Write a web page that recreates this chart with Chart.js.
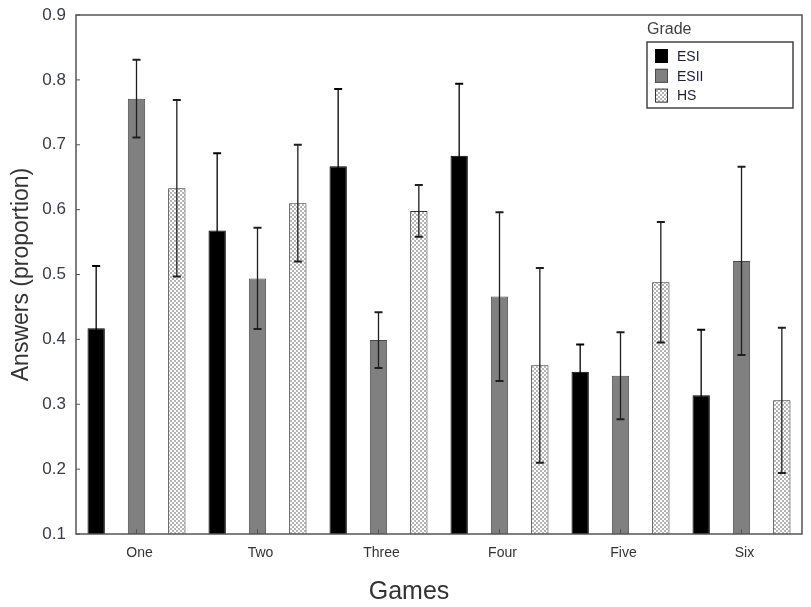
<!DOCTYPE html>
<html>
<head>
<meta charset="utf-8">
<script src="https://cdn.jsdelivr.net/npm/chart.js@4"></script>
<style>
  html, body { margin: 0; padding: 0; background: #fff; }
  canvas { display: block; }
</style>
</head>
<body>
<canvas id="myChart" width="811" height="607"></canvas>
<script>
"use strict"

// categories and series
const games = ['One', 'Two', 'Three', 'Four', 'Five', 'Six'];
const esi = [0.417, 0.568, 0.667, 0.683, 0.350, 0.314];
const esiErr = [0.096, 0.119, 0.119, 0.111, 0.042, 0.101];
const esii = [0.771, 0.494, 0.399, 0.466, 0.344, 0.521];
const esiiErr = [0.060, 0.078, 0.043, 0.130, 0.067, 0.145];
const hs = [0.633, 0.610, 0.598, 0.360, 0.488, 0.306];
const hsErr = [0.136, 0.090, 0.040, 0.150, 0.093, 0.112];
const gradeNames = ['ESI', 'ESII', 'HS'];
const yTicks = [0.1, 0.2, 0.3, 0.4, 0.5, 0.6, 0.7, 0.8, 0.9];

const FONT = "'Liberation Sans', Arial, sans-serif";

// dotted fill for the HS bars
function makeDots() {
    let c = document.createElement('canvas');
    c.width = 4;
    c.height = 4;
    let g = c.getContext('2d');
    g.fillStyle = '#b4b4b4';
    g.fillRect(0, 0, 4, 4);
    g.fillStyle = '#ffffff';
    g.fillRect(0, 0, 2, 2);
    g.fillRect(2, 2, 2, 2);
    return g.createPattern(c, 'repeat');
}
const dots = makeDots();

const fills = ['#000000', '#808080', dots];
const borders = ['#000000', '#4a4a4a', '#333333'];
const errColors = ['#000000', '#1e1e1e', '#1e1e1e'];

// error bars, box round the plot, inner ticks, axis title and the legend
const extras = {
    id: 'extras',
    afterDatasetsDraw(chart) {
        let ctx = chart.ctx;
        let y = chart.scales.y;
        let errs = [esiErr, esiiErr, hsErr];
        ctx.save();
        chart.data.datasets.forEach((ds, i) => {
            let meta = chart.getDatasetMeta(i);
            meta.data.forEach((bar, j) => {
                let v = ds.data[j];
                let top = y.getPixelForValue(v + errs[i][j]);
                let bot = y.getPixelForValue(v - errs[i][j]);
                ctx.strokeStyle = errColors[i];
                ctx.lineWidth = 1.3;
                ctx.beginPath();
                ctx.moveTo(bar.x, top);
                ctx.lineTo(bar.x, bot);
                ctx.stroke();
                ctx.lineWidth = 2;
                ctx.beginPath();
                ctx.moveTo(bar.x - 4, top);
                ctx.lineTo(bar.x + 4, top);
                ctx.moveTo(bar.x - 4, bot);
                ctx.lineTo(bar.x + 4, bot);
                ctx.stroke();
            });
        });
        ctx.restore();
    },
    afterDraw(chart) {
        let ctx = chart.ctx;
        let a = chart.chartArea;
        ctx.save();
        ctx.strokeStyle = '#555555';
        ctx.lineWidth = 1.5;
        ctx.strokeRect(a.left, a.top, a.right - a.left, a.bottom - a.top);

        // small ticks pointing into the plot
        let x = chart.scales.x;
        let y = chart.scales.y;
        ctx.lineWidth = 1;
        games.forEach((g, i) => {
            let px = x.getPixelForValue(i);
            ctx.beginPath();
            ctx.moveTo(px, a.bottom);
            ctx.lineTo(px, a.bottom - 5);
            ctx.stroke();
        });
        yTicks.forEach((t) => {
            let py = y.getPixelForValue(t);
            ctx.beginPath();
            ctx.moveTo(a.left, py);
            ctx.lineTo(a.left + 4, py);
            ctx.stroke();
        });

        // x axis title
        ctx.fillStyle = '#333333';
        ctx.font = '25px ' + FONT;
        ctx.textAlign = 'center';
        ctx.textBaseline = 'middle';
        ctx.fillText('Games', 409, 592);

        // legend
        ctx.fillStyle = '#404040';
        ctx.font = '16px ' + FONT;
        ctx.textAlign = 'left';
        ctx.fillText('Grade', 647, 30);
        ctx.strokeStyle = '#444444';
        ctx.lineWidth = 1.5;
        ctx.strokeRect(647, 42, 146, 66);
        gradeNames.forEach((name, i) => {
            let cy = 56 + i * 19.8;
            ctx.fillStyle = fills[i];
            ctx.fillRect(655, cy - 7, 13, 14);
            ctx.strokeStyle = borders[i];
            ctx.lineWidth = 1;
            ctx.strokeRect(655.5, cy - 6.5, 12, 13);
            ctx.fillStyle = '#1e1e3c';
            ctx.font = '14px ' + FONT;
            ctx.fillText(name, 677, cy + 1);
        });
        ctx.restore();
    }
};

const datasets = [esi, esii, hs].map((vals, i) => ({
    label: gradeNames[i],
    data: vals,
    backgroundColor: fills[i],
    borderColor: borders[i],
    borderWidth: 1,
    borderSkipped: false,
    barPercentage: 0.43,
    categoryPercentage: 1.0
}));

const config = {
    type: 'bar',
    data: { labels: games, datasets: datasets },
    options: {
        responsive: false,
        animation: false,
        layout: { padding: { top: 15, right: 9, left: 0, bottom: 0 } },
        plugins: {
            legend: { display: false },
            tooltip: { enabled: false }
        },
        scales: {
            x: {
                grid: { display: false, drawTicks: false },
                border: { display: false },
                ticks: {
                    color: '#333333',
                    font: { family: FONT, size: 14 },
                    padding: 11,
                    labelOffset: 3
                },
                afterFit(scale) { scale.height = 73; }
            },
            y: {
                min: 0.1,
                max: 0.9,
                grid: { display: false, drawTicks: false },
                border: { display: false },
                ticks: {
                    stepSize: 0.1,
                    color: '#3a3a4a',
                    font: { family: FONT, size: 17 },
                    padding: 10,
                    callback: (v) => v.toFixed(1)
                },
                title: {
                    display: true,
                    text: 'Answers (proportion)',
                    color: '#333333',
                    font: { family: FONT, size: 23 },
                    padding: { top: 8, bottom: 0 }
                },
                afterFit(scale) {
                    scale.width = 76;
                    scale.paddingTop = 0;
                    scale.paddingBottom = 0;
                }
            }
        }
    },
    plugins: [extras]
};

new Chart(document.getElementById('myChart'), config);
</script>
</body>
</html>
